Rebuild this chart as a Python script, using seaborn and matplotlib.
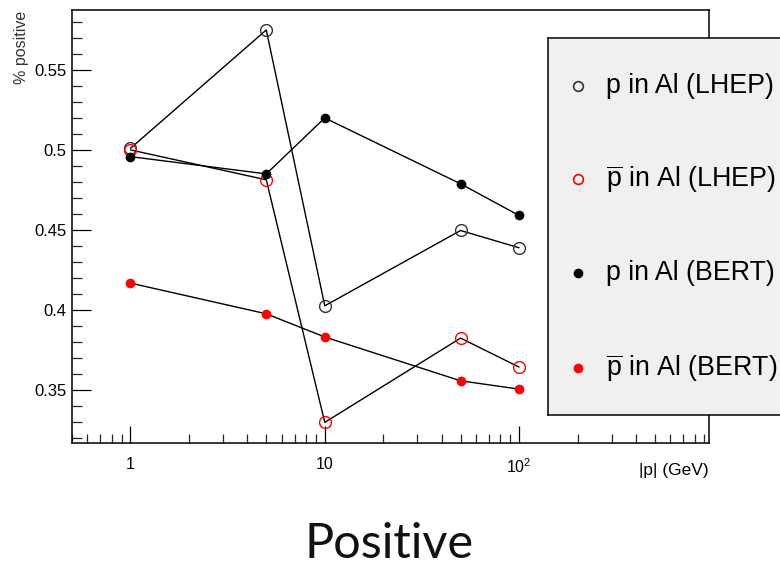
import matplotlib
matplotlib.use("Agg")
import matplotlib.pyplot as plt
import seaborn as sns
import pandas as pd
from matplotlib.ticker import FixedLocator, FixedFormatter, LogLocator, MultipleLocator, NullFormatter

# Beam momentum |p| in GeV
momentum = [1, 5, 10, 50, 100]

# Fraction of positive particles per model / beam
p_lhep = [0.501, 0.575, 0.4025, 0.4496, 0.4388]
pbar_lhep = [0.500, 0.4813, 0.3296, 0.3823, 0.3642]
p_bert = [0.4958, 0.485, 0.520, 0.4788, 0.459]
pbar_bert = [0.4167, 0.3975, 0.383, 0.3556, 0.3504]

series_names = [
    "p in Al (LHEP)",
    r"$\overline{\mathrm{p}}$ in Al (LHEP)",
    "p in Al (BERT)",
    r"$\overline{\mathrm{p}}$ in Al (BERT)",
]

y_ticks = [0.35, 0.4, 0.45, 0.5, 0.55]
y_tick_labels = ["0.35", "0.4", "0.45", "0.5", "0.55"]
x_ticks = [1, 10, 100]
x_tick_labels = ["1", "10", r"$10^{2}$"]

sns.set_theme(style="white")
plt.rcParams["font.family"] = ["Liberation Sans", "DejaVu Sans"]
plt.rcParams["mathtext.fontset"] = "custom"
plt.rcParams["mathtext.rm"] = "Liberation Sans"
plt.rcParams["mathtext.it"] = "Liberation Sans:italic"
plt.rcParams["mathtext.bf"] = "Liberation Sans:bold"

frames = []
for name, vals in zip(series_names, [p_lhep, pbar_lhep, p_bert, pbar_bert]):
    frames.append(pd.DataFrame({"series": name, "momentum": momentum, "value": vals}))
df = pd.concat(frames, ignore_index=True)

# marker style per series: (face colour, edge colour, size, edge width)
styles = {
    series_names[0]: ("none", "#333333", 8.5, 1.0),
    series_names[1]: ("none", "#ff0000", 8.5, 1.0),
    series_names[2]: ("black", "black", 6.5, 0.5),
    series_names[3]: ("#ff0000", "#ff0000", 6.5, 0.5),
}

fig = plt.figure(figsize=(7.8, 5.69), dpi=100)
fig.patch.set_facecolor("white")
ax = fig.add_axes([72 / 780, 1 - 443 / 569, (709 - 72) / 780, (443 - 10) / 569])
ax.set_facecolor("white")

for name in series_names:
    sub = df[df["series"] == name]
    fc, ec, ms, mew = styles[name]
    sns.lineplot(
        data=sub, x="momentum", y="value", ax=ax, color="black", lw=1.0,
        marker="o", markersize=ms, markerfacecolor=fc, markeredgecolor=ec,
        markeredgewidth=mew, estimator=None, sort=False, legend=False,
    )

ax.set_xscale("log")
ax.set_xlim(0.5, 950)
ax.set_ylim(0.3167, 0.5875)

ax.xaxis.set_major_locator(FixedLocator(x_ticks))
ax.xaxis.set_major_formatter(FixedFormatter(x_tick_labels))
ax.xaxis.set_minor_locator(LogLocator(base=10, subs=[2, 3, 4, 5, 6, 7, 8, 9], numticks=20))
ax.xaxis.set_minor_formatter(NullFormatter())
ax.yaxis.set_major_locator(FixedLocator(y_ticks))
ax.yaxis.set_major_formatter(FixedFormatter(y_tick_labels))
ax.yaxis.set_minor_locator(MultipleLocator(0.01))

ax.set_xlabel("")
ax.set_ylabel("")
for s in ax.spines.values():
    s.set_visible(True)
    s.set_color("black")
    s.set_linewidth(1.1)

ax.tick_params(axis="x", which="major", direction="in", length=12, width=0.9,
               pad=10, labelsize=11.5, colors="black", bottom=True, top=False)
ax.tick_params(axis="x", which="minor", direction="in", length=6.5, width=0.9,
               bottom=True, top=False)
ax.tick_params(axis="y", which="major", direction="in", length=14, width=0.9,
               pad=4, labelsize=12, colors="black", left=True, right=False)
ax.tick_params(axis="y", which="minor", direction="in", length=7, width=0.9,
               left=True, right=False)

fig.text(22 / 780, 1 - 11 / 569, "% positive", rotation=90, ha="center", va="top",
         fontsize=11.5, color="#333333")
fig.text(709 / 780, 1 - 470 / 569, "|p| (GeV)", ha="right", va="center",
         fontsize=12.5, color="black")

# Legend panel
lax = fig.add_axes([548 / 780, 1 - 415 / 569, (800 - 548) / 780, (415 - 38) / 569])
lax.set_facecolor("#f0f0f0")
lax.set_xlim(548, 800)
lax.set_ylim(415, 38)
lax.set_xticks([])
lax.set_yticks([])
for s in lax.spines.values():
    s.set_color("black")
    s.set_linewidth(1.1)

rows_y = [86, 179, 273, 368]
legend_sizes = [7.0, 7.0, 6.5, 6.5]
for name, yy, lms in zip(series_names, rows_y, legend_sizes):
    fc, ec, ms, mew = styles[name]
    lax.plot([578], [yy], marker="o", linestyle="none",
             markersize=lms, markerfacecolor=fc, markeredgecolor=ec,
             markeredgewidth=1.2 if fc == "none" else 0.5)
    lax.text(606, yy, name, ha="left", va="center", fontsize=19.3, color="black")

fig.text(0.4994, 1 - 544 / 569, "Positive", ha="center", va="center",
         fontsize=35, family=["Lato", "DejaVu Sans"], color="#111111")

fig.savefig("out.png", dpi=100, facecolor="white")
